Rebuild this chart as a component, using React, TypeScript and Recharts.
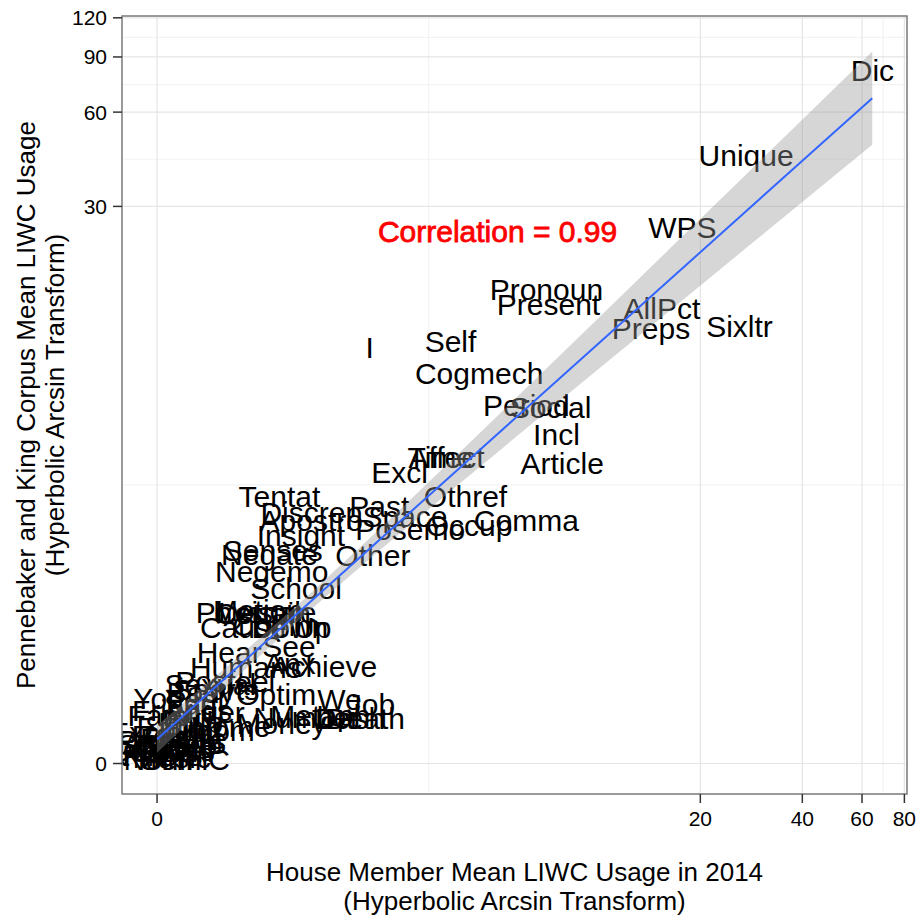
import React from 'react'
import {
  ComposedChart,
  Scatter,
  Area,
  Line,
  XAxis,
  YAxis,
  CartesianGrid,
  ReferenceArea
} from 'recharts'

// LIWC categories: mean usage (%) among House members in 2014 vs. the Pennebaker & King corpus
const categories = [
  'Dic', 'Unique', 'WPS', 'Sixltr', 'AllPct', 'Preps', 'Pronoun', 'Present', 'Self', 'I',
  'Cogmech', 'Period', 'Social', 'Incl', 'Article', 'Time', 'Affect', 'Excl', 'Othref', 'Comma',
  'Tentat', 'Discrep', 'Past', 'Apostro', 'Space', 'Posemo', 'Occup', 'Insight', 'Senses', 'Negate',
  'Other', 'Negemo', 'School', 'Physcal', 'Motion', 'Certain', 'Leisure', 'Cause', 'Comm', 'Down',
  'Up', 'See', 'Hear', 'Humans', 'Anx', 'Achieve', 'Optim', 'We', 'Job', 'Number',
  'Metaph', 'Dash', 'Death', 'Money', 'Home', 'Groom', 'You', 'Friends', 'Family', 'Feel',
  'Sexual', 'Sports', 'Posfeel', 'Body', 'Sad', 'Anger', 'Inhib', 'Eating', 'Future', 'Relig',
  'Swear', 'Assent', 'Qmarks', 'Exclam', 'Quote', 'Parenth', 'OtherP', 'Colon', 'SemiC', 'Nonfl',
  'Fillers', 'Music', 'Sleep'
]

const houseUsage = [
  64.4, 27.3, 17.7, 26.1, 15.4, 14.3, 7.0, 7.1, 3.6, 2.0,
  4.4, 6.1, 7.2, 7.5, 7.8, 3.35, 3.5, 2.5, 4.0, 6.1,
  0.93, 1.25, 2.15, 1.25, 2.6, 2.7, 4.1, 1.14, 0.87, 0.84,
  2.05, 0.86, 1.09, 0.66, 0.74, 0.78, 0.82, 0.62, 0.9, 1.03,
  1.26, 1.02, 0.51, 0.64, 1.03, 1.39, 0.9, 1.58, 2.02, 1.2,
  1.35, 1.72, 1.93, 0.95, 0.52, 0.36, 0.01, 0.17, 0.1, 0.26,
  0.37, 0.41, 0.48, 0.3, 0.23, 0.33, 0.23, 0.15, 0.18, 0.06,
  0.02, 0.08, 0.035, 0.01, 0.12, 0.09, 0.15, 0.08, 0.19, 0.01,
  0.035, 0.1, 0.15
]

const pkUsage = [
  81.5, 43.6, 25.7, 12.4, 14.2, 12.2, 16.3, 14.6, 11.1, 10.6,
  8.8, 6.95, 6.8, 5.6, 4.5, 4.7, 4.7, 4.2, 3.5, 2.9,
  3.5, 3.1, 3.25, 2.9, 3.0, 2.7, 2.8, 2.58, 2.3, 2.22,
  2.21, 1.93, 1.67, 1.36, 1.38, 1.34, 1.36, 1.18, 1.2, 1.18,
  1.18, 0.97, 0.91, 0.77, 0.81, 0.78, 0.53, 0.49, 0.45, 0.35,
  0.36, 0.34, 0.34, 0.3, 0.28, 0.25, 0.5, 0.4, 0.36, 0.49,
  0.62, 0.57, 0.64, 0.55, 0.45, 0.39, 0.31, 0.27, 0.19, 0.21,
  0.14, 0.16, 0.1, 0.23, 0.12, 0.17, 0.09, 0.09, 0.03, 0.03,
  0.06, 0.05, 0.14
]

const xTickValues = [0, 20, 40, 60, 80]
const yTickValues = [0, 30, 60, 90, 120]

// linear smoother fitted on the asinh scale, with its confidence band
const smoothX = [0, 0.5, 1, 1.5, 2, 2.5, 3, 3.5, 4, 4.5, 4.857]
const smoothFit = [0.179, 0.664, 1.149, 1.634, 2.119, 2.604, 3.089, 3.574, 4.059, 4.544, 4.89]
const smoothLow = [0.079, 0.594, 1.089, 1.557, 2.009, 2.456, 2.901, 3.345, 3.788, 4.231, 4.547]
const smoothHigh = [0.279, 0.735, 1.209, 1.712, 2.229, 2.752, 3.277, 3.803, 4.33, 4.857, 5.233]

const correlationText = 'Correlation = 0.99'
const correlationPos = [5, 25]

const FONT = '"Liberation Sans", Arial, Helvetica, sans-serif'
const xDomain = [-0.238, 5.093]
const yDomain = [-0.224, 5.494]

const points = categories.map((name, i) => ({
  name,
  x: Math.asinh(houseUsage[i]),
  y: Math.asinh(pkUsage[i])
}))

const smooth = smoothX.map((x, i) => ({
  x,
  fit: smoothFit[i],
  band: [smoothLow[i], smoothHigh[i]]
}))

const annotation = [
  { name: correlationText, x: Math.asinh(correlationPos[0]), y: Math.asinh(correlationPos[1]) }
]

// minor breaks sit halfway between the major ones on the transformed scale
const minorBreaks = (ticks: number[]) =>
  ticks.slice(1).map((t, i) => (Math.asinh(t) + Math.asinh(ticks[i])) / 2)

const asinhLabel = (v: number) => String(Math.round(Math.sinh(v)))

// eslint-disable-next-line @typescript-eslint/no-explicit-any
const WordLabel = (props: any) => (
  <text
    x={props.cx}
    y={props.cy}
    dy="0.36em"
    textAnchor="middle"
    fontSize={30}
    fontFamily={FONT}
    fill="#000000"
  >
    {props.payload.name}
  </text>
)

// eslint-disable-next-line @typescript-eslint/no-explicit-any
const RedLabel = (props: any) => (
  <text
    x={props.cx}
    y={props.cy}
    dy="0.36em"
    textAnchor="middle"
    fontSize={30}
    fontFamily={FONT}
    fill="#FF0000"
    stroke="#FF0000"
    strokeWidth={0.8}
  >
    {props.payload.name}
  </text>
)

const tickStyle = { fill: '#000000', fontSize: 21, fontFamily: FONT }

export default function App() {
  return (
    <div style={{ position: 'absolute', left: 0, top: 0, width: 921, height: 922, background: '#fff' }}>
      <ComposedChart
        width={921}
        height={922}
        data={smooth}
        margin={{ top: 16, right: 14, left: 0, bottom: 0 }}
      >
        <XAxis xAxisId="minor" type="number" dataKey="x" domain={xDomain} ticks={minorBreaks(xTickValues)} hide allowDataOverflow />
        <YAxis yAxisId="minor" type="number" domain={yDomain} ticks={minorBreaks(yTickValues)} hide allowDataOverflow />
        <CartesianGrid xAxisId="minor" yAxisId="minor" stroke="#F3F3F3" strokeWidth={1.2} />
        <CartesianGrid stroke="#E5E5E5" strokeWidth={1.2} />

        <XAxis
          type="number"
          dataKey="x"
          domain={xDomain}
          ticks={xTickValues.map(Math.asinh)}
          tickFormatter={asinhLabel}
          interval={0}
          allowDataOverflow
          height={128}
          axisLine={false}
          tickLine={{ stroke: '#333333', strokeWidth: 1.5 }}
          tickSize={9}
          tickMargin={8}
          tick={tickStyle}
        />
        <YAxis
          type="number"
          domain={yDomain}
          ticks={yTickValues.map(Math.asinh)}
          tickFormatter={asinhLabel}
          interval={0}
          allowDataOverflow
          width={122}
          axisLine={false}
          tickLine={{ stroke: '#333333', strokeWidth: 1.5 }}
          tickSize={9}
          tickMargin={6}
          tick={tickStyle}
        />

        <Scatter data={points} dataKey="y" shape={WordLabel} zIndex={50} isAnimationActive={false} />
        <Area
          type="linear"
          dataKey="band"
          stroke="none"
          fill="#999999"
          fillOpacity={0.4}
          isAnimationActive={false}
        />
        <Line
          type="linear"
          dataKey="fit"
          stroke="#3366FF"
          strokeWidth={2}
          dot={false}
          activeDot={false}
          isAnimationActive={false}
        />
        <Scatter data={annotation} dataKey="y" shape={RedLabel} isAnimationActive={false} />
        <ReferenceArea
          x1={xDomain[0]}
          x2={xDomain[1]}
          y1={yDomain[0]}
          y2={yDomain[1]}
          fill="none"
          stroke="#7F7F7F"
          strokeWidth={1.5}
        />
      </ComposedChart>

      <div
        style={{
          position: 'absolute',
          left: 122,
          top: 858,
          width: 785,
          textAlign: 'center',
          fontFamily: FONT,
          fontSize: 26,
          lineHeight: '28.5px',
          color: '#000'
        }}
      >
        House Member Mean LIWC Usage in 2014
        <br />
        (Hyperbolic Arcsin Transform)
      </div>
      <div
        style={{
          position: 'absolute',
          left: 42 - 389,
          top: 405 - 30,
          width: 778,
          height: 60,
          transform: 'rotate(-90deg)',
          textAlign: 'center',
          fontFamily: FONT,
          fontSize: 26,
          lineHeight: '28.5px',
          color: '#000'
        }}
      >
        Pennebaker and King Corpus Mean LIWC Usage
        <br />
        (Hyperbolic Arcsin Transform)
      </div>
    </div>
  )
}
